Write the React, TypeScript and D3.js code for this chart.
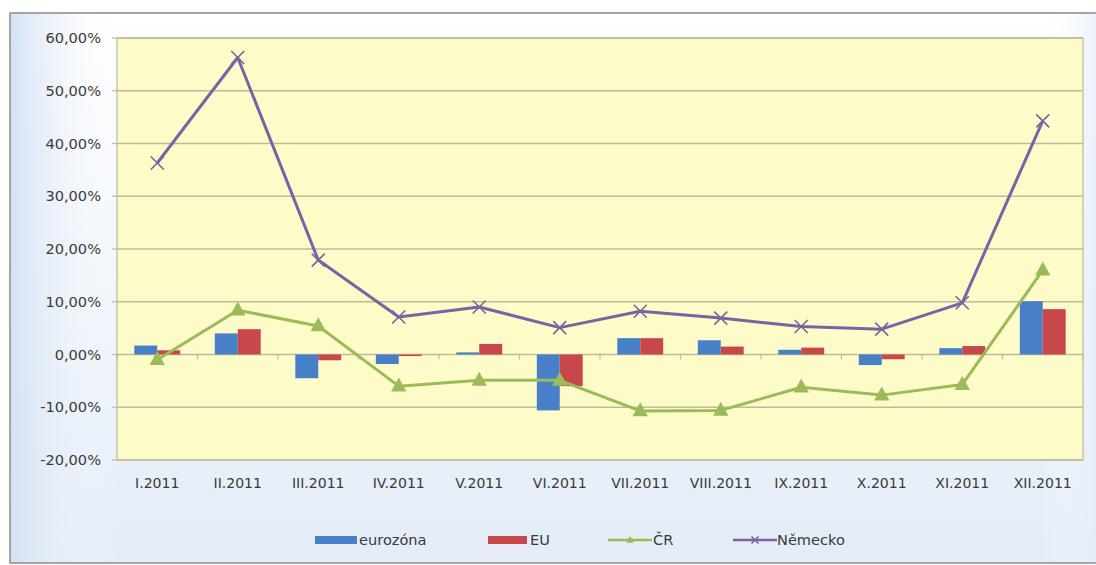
import React from "react";
import * as d3 from "d3";

const categories = ["I.2011","II.2011","III.2011","IV.2011","V.2011","VI.2011","VII.2011","VIII.2011","IX.2011","X.2011","XI.2011","XII.2011"];
const eurozona = [1.7, 4.0, -4.5, -1.8, 0.4, -10.6, 3.1, 2.7, 0.9, -2.0, 1.2, 10.1];
const eu = [0.8, 4.8, -1.1, -0.3, 2.0, -6.0, 3.1, 1.5, 1.3, -0.9, 1.6, 8.6];
const cr = [-1.0, 8.4, 5.4, -6.0, -4.9, -4.9, -10.7, -10.6, -6.2, -7.7, -5.7, 16.0];
const nemecko = [36.3, 56.3, 17.9, 7.1, 9.0, 5.1, 8.2, 6.9, 5.3, 4.8, 9.8, 44.3];
const yTicks = [60, 50, 40, 30, 20, 10, 0, -10, -20];
const legendLabels = ["eurozóna", "EU", "ČR", "Německo"];

const W = 1096, H = 565;
const plot = { left: 117, right: 1083, top: 38, bottom: 460 };
const BLUE = "#4780c8", RED = "#c8474a", GREEN = "#9bbb59", PURPLE = "#7d62a3";
const FONT = "'DejaVu Sans', sans-serif";
const TXT = "#3a3a3a";

function Txt(props: { x: number; y: number; anchor?: string; children: string; sx?: number }) {
  const sx = props.sx ?? 1.08;
  return (
    <text transform={`translate(${props.x},${props.y}) scale(${sx},1)`} textAnchor={props.anchor || "start"} fontFamily={FONT} fontSize={13.5} fill={TXT}>
      {props.children}
    </text>
  );
}

export default function App() {
  const x = d3.scaleBand<string>().domain(categories).range([plot.left, plot.right]).paddingInner(0).paddingOuter(0);
  const y = d3.scaleLinear().domain([-20, 60]).range([plot.bottom, plot.top]);
  const bw = x.bandwidth();
  const barW = bw * 0.285;
  const cx = (c: string) => (x(c) as number) + bw / 2;
  const line = d3.line<number>().x((_, i) => cx(categories[i])).y((v) => y(v));
  const fmt = (v: number) => v.toFixed(2).replace(".", ",") + "%";

  const tri = (px: number, py: number, s: number, key: string) => (
    <path key={key} d={`M${px},${py - s * 0.62}L${px + s * 0.55},${py + s * 0.38}L${px - s * 0.55},${py + s * 0.38}Z`} fill={GREEN} />
  );
  const cross = (px: number, py: number, s: number, key: string) => (
    <path key={key} d={`M${px - s},${py - s}L${px + s},${py + s}M${px - s},${py + s}L${px + s},${py - s}`} stroke={PURPLE} strokeWidth={1.6} />
  );

  const legY = 540;
  return (
    <svg width={W} height={H} style={{ position: "absolute", left: 0, top: 0 }}>
      <defs>
        <linearGradient id="bgv" x1="0" y1="0" x2="0" y2="1">
          <stop offset="0" stopColor="#ffffff" />
          <stop offset="1" stopColor="#e3ecf8" />
        </linearGradient>
        <linearGradient id="bgh" x1="0" y1="0" x2="1" y2="0">
          <stop offset="0" stopColor="#d3e1f4" stopOpacity="0.95" />
          <stop offset="0.1" stopColor="#ffffff" stopOpacity="0" />
          <stop offset="0.94" stopColor="#ffffff" stopOpacity="0" />
          <stop offset="1" stopColor="#dfe9f7" stopOpacity="0.8" />
        </linearGradient>
      </defs>
      <rect x={0} y={0} width={W} height={H} fill="#ffffff" />
      <rect x={11} y={14} width={1095} height={548} fill="url(#bgv)" />
      <rect x={11} y={14} width={1095} height={548} fill="url(#bgh)" />
      <rect x={10} y={13} width={1100} height={550} fill="none" stroke="#a5a5a5" strokeWidth={2} />

      <rect x={plot.left} y={plot.top} width={plot.right - plot.left} height={plot.bottom - plot.top} fill="#fdfcc9" stroke="#c4c4b4" strokeWidth={1.5} />
      {yTicks.map((t) => (
        <g key={t}>
          <line x1={plot.left} x2={plot.right} y1={y(t)} y2={y(t)} stroke="#bcbc98" strokeWidth={1.6} />
          <line x1={plot.left - 5} x2={plot.left} y1={y(t)} y2={y(t)} stroke="#bcbc98" strokeWidth={1.2} />
          <Txt x={101} y={y(t) + 5} anchor="end">{fmt(t)}</Txt>
        </g>
      ))}
      {categories.map((c, i) => (
        <line key={"tk" + i} x1={x(c) as number} x2={x(c) as number} y1={y(0)} y2={y(0) + 5} stroke="#bcbc98" strokeWidth={1.2} />
      ))}
      <line x1={plot.right} x2={plot.right} y1={y(0)} y2={y(0) + 5} stroke="#bcbc98" strokeWidth={1.2} />

      {categories.map((c, i) => (
        <g key={"b" + i}>
          <rect x={cx(c) - barW} width={barW} y={Math.min(y(0), y(eurozona[i]))} height={Math.abs(y(eurozona[i]) - y(0))} fill={BLUE} />
          <rect x={cx(c)} width={barW} y={Math.min(y(0), y(eu[i]))} height={Math.abs(y(eu[i]) - y(0))} fill={RED} />
        </g>
      ))}

      <path d={line(cr) || ""} fill="none" stroke={GREEN} strokeWidth={3} strokeLinejoin="round" />
      {cr.map((v, i) => tri(cx(categories[i]), y(v), 14, "t" + i))}
      <path d={line(nemecko) || ""} fill="none" stroke={PURPLE} strokeWidth={3} strokeLinejoin="round" />
      {nemecko.map((v, i) => cross(cx(categories[i]), y(v), 6.5, "c" + i))}

      {categories.map((c, i) => (
        <Txt key={"xl" + i} x={cx(c)} y={488} anchor="middle" sx={1.04}>{c}</Txt>
      ))}

      {/* legend */}
      <rect x={315} y={legY - 4} width={42} height={8} fill={BLUE} />
      <Txt x={359} y={legY + 5}>{legendLabels[0]}</Txt>
      <rect x={488} y={legY - 4} width={39} height={8} fill={RED} />
      <Txt x={530} y={legY + 5}>{legendLabels[1]}</Txt>
      <line x1={608} x2={652} y1={legY} y2={legY} stroke={GREEN} strokeWidth={2.5} />
      {tri(630, legY, 7, "lt")}
      <Txt x={653} y={legY + 5}>{legendLabels[2]}</Txt>
      <line x1={733} x2={777} y1={legY} y2={legY} stroke={PURPLE} strokeWidth={2.5} />
      {cross(755, legY, 3.5, "lc")}
      <Txt x={777} y={legY + 5}>{legendLabels[3]}</Txt>
    </svg>
  );
}
